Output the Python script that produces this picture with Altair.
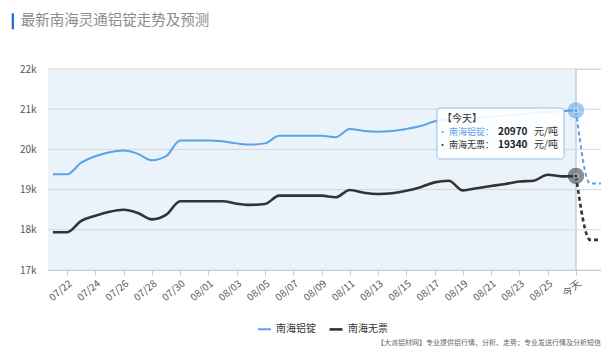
import json
import altair as alt
import pandas as pd

# ---------------- data ----------------
dates = ["07/21", "07/22", "07/23", "07/24", "07/25", "07/26", "07/27", "07/28", "07/29", "07/30",
         "07/31", "08/01", "08/02", "08/03", "08/04", "08/05", "08/06", "08/07", "08/08", "08/09",
         "08/10", "08/11", "08/12", "08/13", "08/14", "08/15", "08/16", "08/17", "08/18", "08/19",
         "08/20", "08/21", "08/22", "08/23", "08/24", "08/25", "08/26", "今天"]
forecast_dates = ["08/28", "08/29", "08/30"]
series_names = ["南海铝锭", "南海无票"]

ingot = [19380, 19380, 19670, 19830, 19930, 19970, 19890, 19730, 19830, 20220,
         20220, 20220, 20200, 20150, 20120, 20150, 20340, 20340, 20340, 20340,
         20300, 20510, 20460, 20440, 20460, 20510, 20580, 20700, 20740, 20760,
         20790, 20810, 20840, 20870, 20900, 20930, 20950, 20970]
ingot_forecast = [19150, 19150, 19150]

no_ticket = [17940, 17940, 18220, 18350, 18450, 18500, 18420, 18260, 18370, 18710,
             18710, 18710, 18710, 18650, 18620, 18640, 18850, 18850, 18850, 18850,
             18810, 18990, 18920, 18890, 18910, 18970, 19060, 19180, 19220, 18980,
             19035, 19090, 19140, 19200, 19220, 19370, 19330, 19340]
no_ticket_forecast = [17750, 17750, 17750]

y_ticks = [17000, 18000, 19000, 20000, 21000, 22000]
title_text = "最新南海灵通铝锭走势及预测"
footer_text = "【大派铝材网】专业提供铝行情、分析、走势；专业发送行情及分析短信、微"
unit_text = "元/吨"
today_label = "【今天】"

# ---------------- table ----------------
all_labels = dates + forecast_dates
today_idx = len(dates) - 1
rows = []
for name, actual, fc in [(series_names[0], ingot, ingot_forecast),
                         (series_names[1], no_ticket, no_ticket_forecast)]:
    vals = actual + fc
    for i, v in enumerate(vals):
        rows.append({"idx": i, "label": all_labels[i], "series": name, "value": v})
df = pd.DataFrame(rows)
grid_df = pd.DataFrame({"value": y_ticks})
today_df = df[df["idx"] == today_idx].reset_index(drop=True)
one = pd.DataFrame({"k": [0]})

W, H = 553, 201
BLUE = "#5aa2e8"
DARK = "#333333"
FONT = "Noto Sans CJK SC"

x_scale = alt.Scale(domain=[-0.35, 38.77], nice=False, zero=False)
y_scale = alt.Scale(domain=[17000, 22000], nice=False, zero=False)
color_scale = alt.Scale(domain=series_names, range=[BLUE, DARK])

label_js = json.dumps(all_labels, ensure_ascii=False)
x_axis = alt.Axis(values=list(range(1, today_idx + 1, 2)),
                  labelExpr=f"{label_js}[datum.value]",
                  labelAngle=-40, labelAlign="right", labelBaseline="top",
                  labelPadding=3, labelFontSize=10, labelColor="#555",
                  domainColor="#b8cce0", tickColor="#b8cce0", tickSize=5,
                  grid=False, title=None, labelFont=FONT)
y_axis = alt.Axis(values=y_ticks, labelExpr="datum.value / 1000 + 'k'",
                  domain=False, ticks=False, grid=False, labelPadding=12,
                  labelFontSize=10, labelColor="#555", title=None, labelFont=FONT)

legend = alt.Legend(orient="none", legendX=209, legendY=252, direction="horizontal",
                    title=None, symbolType="stroke", symbolSize=169,
                    symbolStrokeWidth=2, labelFontSize=10, labelColor="#333",
                    labelFont=FONT, columnPadding=8, labelOffset=4)

X = alt.X("idx:Q", scale=x_scale, axis=x_axis)
Y = alt.Y("value:Q", scale=y_scale, axis=y_axis)

# shaded history region
shade = alt.Chart(today_df.head(1)).mark_rect(color="#eaf3fa").encode(
    x=X, x2=alt.value(0), y=alt.value(0), y2=alt.value(H))

grid = alt.Chart(grid_df).mark_rule(color="#d6d6d6", strokeWidth=1).encode(
    y=Y, x=alt.value(0), x2=alt.value(W))

today_rule = alt.Chart(today_df.head(1)).mark_rule(color="#bcd2e6", strokeWidth=1.5).encode(
    x=X)

solid = alt.Chart(df).transform_filter(f"datum.idx <= {today_idx}").mark_line(
    interpolate="monotone", clip=True).encode(
    x=X, y=Y,
    color=alt.Color("series:N", scale=color_scale, legend=legend, sort=series_names),
    strokeWidth=alt.StrokeWidth("series:N", scale=alt.Scale(domain=series_names, range=[2, 2.6]), legend=None),
    detail="series:N")

dashed = alt.Chart(df).transform_filter(f"datum.idx >= {today_idx}").mark_line(
    interpolate="monotone", clip=True, strokeDash=[4, 3]).encode(
    x=X, y=Y,
    color=alt.Color("series:N", scale=color_scale, legend=None),
    strokeWidth=alt.StrokeWidth("series:N", scale=alt.Scale(domain=series_names, range=[2, 3]), legend=None),
    detail="series:N")

halo = alt.Chart(today_df).mark_circle(size=270, opacity=0.55).encode(
    x=X, y=Y,
    color=alt.Color("series:N", scale=alt.Scale(domain=series_names, range=["#a9cdf3", "#9a9a9a"]), legend=None))
dot = alt.Chart(today_df).mark_point(filled=True, size=20, stroke="white", strokeWidth=1).encode(
    x=X, y=Y,
    fill=alt.Fill("series:N", scale=color_scale, legend=None))

# tooltip box
tip_box = alt.Chart(one).mark_rect(fill="white", fillOpacity=0.9, stroke="#92bfe8",
                                   strokeWidth=1, cornerRadius=3).encode(
    x=alt.value(389), x2=alt.value(516), y=alt.value(39), y2=alt.value(90))
tip_head = alt.Chart(one).mark_text(text=today_label, align="left", baseline="middle",
                                    fontSize=10, color="#333", font=FONT).encode(
    x=alt.value(394), y=alt.value(50))
tip_l1 = alt.Chart(one).mark_text(text="· " + series_names[0] + "：", align="right", baseline="middle",
                                  fontSize=9, color=BLUE, font=FONT).encode(
    x=alt.value(446), y=alt.value(62.5))
tip_v1 = alt.Chart(one).mark_text(text=f"{ingot[-1]}", align="left", baseline="middle",
                                  fontSize=10, fontWeight="bold", color="#222", font=FONT).encode(
    x=alt.value(450), y=alt.value(62.5))
tip_u1 = alt.Chart(one).mark_text(text=unit_text, align="left", baseline="middle",
                                  fontSize=10, color="#333", font=FONT).encode(
    x=alt.value(486), y=alt.value(62.5))
tip_l2 = alt.Chart(one).mark_text(text="· " + series_names[1] + "：", align="right", baseline="middle",
                                  fontSize=9, color="#333", font=FONT).encode(
    x=alt.value(446), y=alt.value(76))
tip_v2 = alt.Chart(one).mark_text(text=f"{no_ticket[-1]}", align="left", baseline="middle",
                                  fontSize=10, fontWeight="bold", color="#222", font=FONT).encode(
    x=alt.value(450), y=alt.value(76))
tip_u2 = alt.Chart(one).mark_text(text=unit_text, align="left", baseline="middle",
                                  fontSize=10, color="#333", font=FONT).encode(
    x=alt.value(486), y=alt.value(76))

# title, side bar, footer
bar = alt.Chart(one).mark_rect(color="#1a6fd0").encode(
    x=alt.value(-36.3), x2=alt.value(-34), y=alt.value(-55.7), y2=alt.value(-39.7))
title = alt.Chart(one).mark_text(text=title_text, align="left", baseline="middle",
                                 fontSize=14.5, color="#8c8c8c", font=FONT).encode(
    x=alt.value(-27.3), y=alt.value(-48.5))
footer = alt.Chart(one).mark_text(text=footer_text, align="left", baseline="middle",
                                  fontSize=7, color="#666", font=FONT).encode(
    x=alt.value(329), y=alt.value(273.7))

chart = alt.layer(
    shade, grid, today_rule, solid, dashed, halo, dot,
    tip_box, tip_head, tip_l1, tip_v1, tip_u1, tip_l2, tip_v2, tip_u2,
    bar, title, footer
).properties(
    width=W, height=H,
    padding={"left": 40, "top": 61, "right": 0, "bottom": 82},
    autosize=alt.AutoSizeParams(type="none"),
).configure_view(stroke=None).configure(font=FONT)

chart.save("out.html", embed_options={"renderer": "svg", "actions": False})
